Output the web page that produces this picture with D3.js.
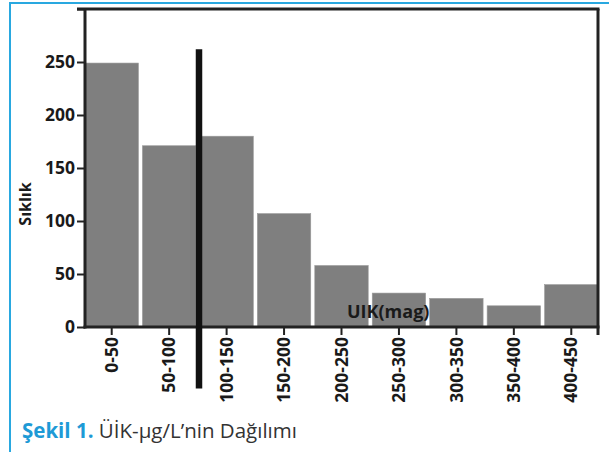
<!DOCTYPE html>
<html>
<head>
<meta charset="utf-8">
<style>
  body { margin: 0; background: #fff; }
  svg text { font-family: "Open Sans", sans-serif; }
  .tick-label { font-size: 17.5px; font-weight: bold; fill: #1a1a1a; }
  .axis-title { font-size: 16px; font-weight: bold; fill: #1a1a1a; }
</style>
</head>
<body>
<svg width="609" height="452"></svg>
<script src="https://d3js.org/d3.v7.min.js"></script>
<script>
// UİK aralıkları (µg/L) ve sıklıkları
var categories = ["0-50", "50-100", "100-150", "150-200", "200-250", "250-300", "300-350", "350-400", "400-450"];
var counts = [249, 171, 180, 107, 58, 32, 27, 20, 40];
var yTicks = [0, 50, 100, 150, 200, 250, 300];
var cutoff = 100;            // dikey referans çizgisi (µg/L)
var cutoffSpan = [262, -58]; // çizginin sıklık ekseninde uzandığı aralık

var svg = d3.select("svg");
var margin = {left: 85, right: 11, top: 9, bottom: 125};
var width = 609 - margin.left - margin.right,
    height = 452 - margin.top - margin.bottom;

// mavi çerçeve
svg.append("path")
    .attr("d", "M10,452V3H609")
    .attr("fill", "none")
    .attr("stroke", "#29a8e0")
    .attr("stroke-width", 2);

var g = svg.append("g").attr("transform", "translate(" + margin.left + "," + margin.top + ")");

var x = d3.scaleBand()
    .domain(categories)
    .range([0, width])
    .paddingInner(0.07)
    .paddingOuter(0);

var xVal = d3.scaleLinear().domain([0, 450]).range([0, width]);

var y = d3.scaleLinear()
    .domain([0, 300])
    .range([height, 0]);

// sütunlar
g.selectAll("rect.bar")
    .data(counts)
    .enter().append("rect")
    .attr("class", "bar")
    .attr("x", function(d, i) { return x(categories[i]); })
    .attr("y", function(d) { return y(d); })
    .attr("width", x.bandwidth())
    .attr("height", function(d) { return y(0) - y(d); })
    .attr("fill", "#7f7f7f")
    .attr("stroke", "#9a9a9a")
    .attr("stroke-width", 0.6);

// üst ve sağ çerçeve
g.append("line")
    .attr("x1", -8).attr("x2", width + 1.5)
    .attr("y1", y(300)).attr("y2", y(300))
    .attr("stroke", "#222").attr("stroke-width", 3);
g.append("line")
    .attr("x1", width).attr("x2", width)
    .attr("y1", y(300)).attr("y2", height + 8)
    .attr("stroke", "#222").attr("stroke-width", 3);

// y ekseni
var yAxis = g.append("g")
    .call(d3.axisLeft(y).tickValues(yTicks).tickSize(8).tickPadding(2)
      .tickFormat(function(d) { return d === 300 ? "" : d; }));
yAxis.select(".domain").attr("stroke", "#222").attr("stroke-width", 3)
    .attr("d", "M0," + y(300) + "V" + (height + 1.5));
yAxis.selectAll(".tick line").attr("stroke", "#222").attr("stroke-width", 2);
yAxis.selectAll(".tick text").attr("class", "tick-label").attr("fill", null);

// x ekseni
var xAxis = g.append("g")
    .attr("transform", "translate(0," + height + ")")
    .call(d3.axisBottom(x).tickSize(8).tickPadding(3));
xAxis.select(".domain").attr("stroke", "#222").attr("stroke-width", 3)
    .attr("d", "M-1.5,0H" + (width + 1.5));
xAxis.selectAll(".tick line").attr("stroke", "#222").attr("stroke-width", 2);
xAxis.selectAll(".tick text")
    .attr("class", "tick-label")
    .attr("fill", null)
    .attr("transform", "rotate(-90)")
    .attr("text-anchor", "end")
    .attr("x", -10)
    .attr("y", 0)
    .attr("dy", "0.35em");

// referans çizgisi
g.append("line")
    .attr("x1", xVal(cutoff)).attr("x2", xVal(cutoff))
    .attr("y1", y(cutoffSpan[0])).attr("y2", y(cutoffSpan[1]))
    .attr("stroke", "#111").attr("stroke-width", 6.5);

// eksen başlıkları
svg.append("text")
    .attr("class", "axis-title")
    .attr("transform", "translate(25,204) rotate(-90)")
    .attr("text-anchor", "middle")
    .attr("dy", "0.35em")
    .text("Sıklık");

svg.append("text")
    .attr("class", "axis-title")
    .attr("x", 347).attr("y", 318)
    .style("font-size", "18px")
    .text("UIK(mag)");

// şekil altyazısı
var cap = svg.append("text")
    .attr("x", 22).attr("y", 438)
    .style("font-size", "20.5px");
cap.append("tspan").attr("fill", "#1e9ad6").attr("font-weight", "bold").text("Şekil 1.");
cap.append("tspan").attr("fill", "#333").text(" ÜİK-µg/L’nin Dağılımı");
</script>
</body>
</html>
